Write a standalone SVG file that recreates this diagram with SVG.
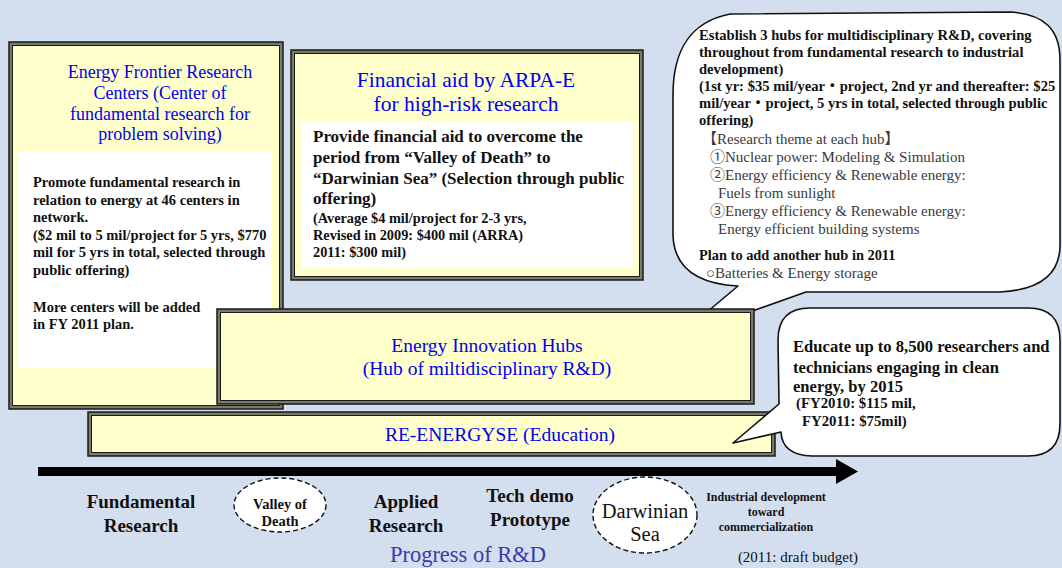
<svg xmlns="http://www.w3.org/2000/svg" width="1062" height="568" viewBox="0 0 1062 568">
<style>
.bg{fill:#D3DEEF}
.frame{fill:#7a7a6a;stroke:#1a1a1a;stroke-width:1.5}
.inner{fill:#FFFFCC;stroke:#1a1a1a;stroke-width:1}
.panel{fill:#FFFFFF}
.bubble{fill:#FFFFFF;stroke:#111;stroke-width:1.6;stroke-linejoin:round}
.t{font-family:"Liberation Serif","Noto Sans CJK JP",serif}
.title{font-family:"Liberation Serif",serif;fill:#0000EE;text-anchor:middle}
.b{font-weight:bold;fill:#111}
.g{fill:#3a3a3a}
.ell{fill:#FFFFFF;stroke:#111;stroke-width:1.4;stroke-dasharray:5 3}
.lbl{font-family:"Liberation Serif",serif;font-weight:bold;fill:#111;text-anchor:middle}
</style>
<rect class="bg" x="0" y="0" width="1062" height="568"/>

<g id="efrc">
<rect class="frame" x="9" y="42" width="274" height="367"/>
<rect class="inner" x="12.5" y="45.5" width="267" height="360"/>
<rect class="panel" x="18" y="151" width="254" height="217"/>
<text class="title" font-size="18"><tspan x="160" y="78">Energy Frontier Research</tspan><tspan x="160" y="99">Centers (Center of</tspan><tspan x="160" y="119.5">fundamental research for</tspan><tspan x="160" y="140">problem solving)</tspan></text>
<text class="t b" font-size="14.5"><tspan x="33" y="187">Promote fundamental research in</tspan><tspan x="33" y="204.6">relation to energy at 46 centers in</tspan><tspan x="33" y="222.2">network.</tspan><tspan x="33" y="239.8">($2 mil to 5 mil/project for 5 yrs, $770</tspan><tspan x="33" y="257.4">mil for 5 yrs in total, selected through</tspan><tspan x="33" y="275">public offering)</tspan><tspan x="33" y="311.5">More centers will be added</tspan><tspan x="33" y="329">in FY 2011 plan.</tspan></text>
</g>

<g id="arpae">
<rect class="frame" x="291" y="50" width="352" height="230"/>
<rect class="inner" x="294.5" y="53.5" width="345" height="223"/>
<rect class="panel" x="302" y="122" width="331" height="146"/>
<text class="title" font-size="21.5"><tspan x="466" y="87">Financial aid by ARPA-E</tspan><tspan x="466" y="111">for high-risk research</tspan></text>
<text class="t b" font-size="17"><tspan x="313" y="142">Provide financial aid to overcome the</tspan><tspan x="313" y="163">period from “Valley of Death” to</tspan><tspan x="313" y="184">“Darwinian Sea” (Selection through public</tspan><tspan x="313" y="203.5">offering)</tspan></text>
<text class="t b" font-size="14.3"><tspan x="313" y="223">(Average $4 mil/project for 2-3 yrs,</tspan><tspan x="313" y="240">Revised in 2009: $400 mil (ARRA)</tspan><tspan x="313" y="257">2011: $300 mil)</tspan></text>
</g>

<g id="hubs-callout">
<path class="bubble" d="M 738,286 C 700,284 674,270 673,235 L 673,95 C 673,50 690,22 730,14 L 1010,12 C 1045,14 1060,30 1060,60 L 1060,245 C 1060,275 1040,290 1000,292 L 806,292 L 676,338 Z"/>
<text class="t b" font-size="14.6"><tspan x="699" y="40">Establish 3 hubs for multidisciplinary R&amp;D, covering</tspan><tspan x="699" y="57">throughout from fundamental research to industrial</tspan><tspan x="699" y="74">development)</tspan><tspan x="699" y="91">(1st yr: $35 mil/year・project, 2nd yr and thereafter: $25</tspan><tspan x="699" y="108">mil/year・project, 5 yrs in total, selected through public</tspan><tspan x="699" y="125">offering)</tspan></text>
<text class="t g" font-size="15"><tspan x="702" y="144">【Research theme at each hub】</tspan><tspan x="710" y="162">①Nuclear power: Modeling &amp; Simulation</tspan><tspan x="710" y="180">②Energy efficiency &amp; Renewable energy:</tspan><tspan x="718" y="198">Fuels from sunlight</tspan><tspan x="710" y="216">③Energy efficiency &amp; Renewable energy:</tspan><tspan x="718" y="234">Energy efficient building systems</tspan></text>
<text class="t b" font-size="14.4" x="699" y="260">Plan to add another hub in 2011</text>
<text class="t g" font-size="15" x="706" y="278">○Batteries &amp; Energy storage</text>
</g>

<g id="hubs">
<rect class="frame" x="217" y="309" width="537" height="95"/>
<rect class="inner" x="220.5" y="312.5" width="530" height="88"/>
<text class="title" font-size="19.5"><tspan x="487" y="352">Energy Innovation Hubs</tspan><tspan x="487" y="375">(Hub of miltidisciplinary R&amp;D)</tspan></text>
</g>

<g id="reenergyse">
<rect class="frame" x="88" y="412" width="687" height="44"/>
<rect class="inner" x="91.5" y="415.5" width="680" height="37"/>
<text class="title" font-size="19.5" x="500" y="441">RE-ENERGYSE (Education)</text>
</g>

<g id="edu-callout">
<path class="bubble" d="M 810,308 L 1028,308 Q 1060,308 1060,340 L 1060,424 Q 1060,456 1028,456 L 812,456 Q 782,455 781,432 L 733,443 L 779,404 L 778,340 Q 778,308 810,308 Z"/>
<text class="t b" font-size="16.6"><tspan x="793" y="352">Educate up to 8,500 researchers and</tspan><tspan x="793" y="373">technicians engaging in clean</tspan><tspan x="793" y="392">energy, by 2015</tspan></text>
<text class="t b" font-size="14.8"><tspan x="796" y="408">(FY2010: $115 mil,</tspan><tspan x="802" y="426">FY2011: $75mil)</tspan></text>
</g>

<g id="connectors">
<rect x="38" y="467" width="799" height="9" fill="#000"/>
<polygon points="836,459 858,471.5 836,484" fill="#000"/>
</g>

<g id="axis-labels">
<text class="lbl" font-size="19"><tspan x="141" y="508">Fundamental</tspan><tspan x="141" y="532">Research</tspan></text>
<g id="valley">
<ellipse class="ell" cx="280" cy="505" rx="46" ry="27"/>
<text class="lbl" font-size="14.5"><tspan x="280" y="509">Valley of</tspan><tspan x="280" y="526">Death</tspan></text>
</g>
<text class="lbl" font-size="19"><tspan x="406" y="508">Applied</tspan><tspan x="406" y="532">Research</tspan></text>
<text class="lbl" font-size="19"><tspan x="530" y="502">Tech demo</tspan><tspan x="530" y="526">Prototype</tspan></text>
<g id="darwinian">
<ellipse class="ell" cx="645" cy="515" rx="52" ry="38"/>
<text class="t" font-size="20.5" fill="#111" text-anchor="middle"><tspan x="645" y="518">Darwinian</tspan><tspan x="645" y="541">Sea</tspan></text>
</g>
<text class="lbl" font-size="12"><tspan x="766" y="501">Industrial development</tspan><tspan x="766" y="516">toward</tspan><tspan x="766" y="531">commercialization</tspan></text>
<text class="t" font-size="15" fill="#111" text-anchor="middle" x="798" y="562">(2011: draft budget)</text>
<text class="t" font-size="22.5" fill="#3A3AAA" text-anchor="middle" x="468" y="562">Progress of R&amp;D</text>
</g>
</svg>
